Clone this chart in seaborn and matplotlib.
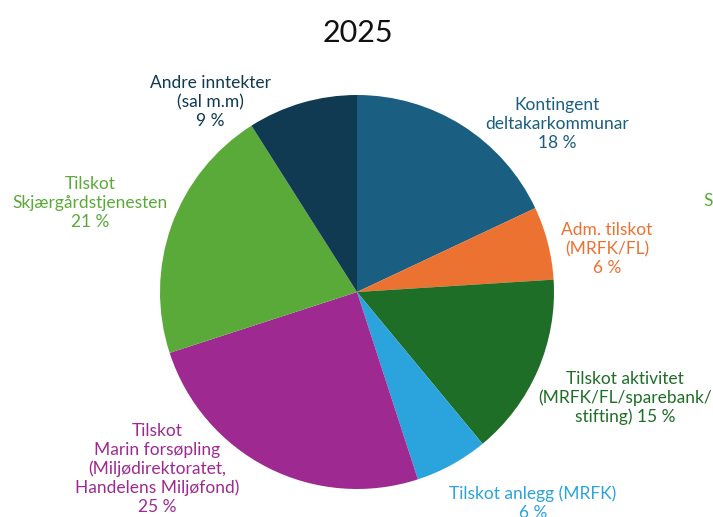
import matplotlib
matplotlib.use("Agg")
import matplotlib.pyplot as plt
import seaborn as sns

sns.set_theme(style="white")
plt.rcParams['font.family'] = ['Lato', 'DejaVu Sans']

categories = ["Kontingent\ndeltakarkommunar", "Adm. tilskot\n(MRFK/FL)",
              "Tilskot aktivitet\n(MRFK/FL/sparebank/\nstifting)", "Tilskot anlegg (MRFK)",
              "Tilskot\nMarin forsøpling\n(Miljødirektoratet,\nHandelens Miljøfond)",
              "Tilskot\nSkjærgårdstjenesten", "Andre inntekter\n(sal m.m)"]
values = [18, 6, 15, 6, 25, 21, 9]
colors = ["#1a5e82", "#ec7232", "#1f6e27", "#2ba3dc", "#9e2a91", "#5aaa3a", "#0f3a52"]
label_texts = ["Kontingent\ndeltakarkommunar\n18 %", "Adm. tilskot\n(MRFK/FL)\n6 %",
               "Tilskot aktivitet\n(MRFK/FL/sparebank/\nstifting) 15 %",
               "Tilskot anlegg (MRFK)\n6 %",
               "Tilskot\nMarin forsøpling\n(Miljødirektoratet,\nHandelens Miljøfond)\n25 %",
               "Tilskot\nSkjærgårdstjenesten\n21 %", "Andre inntekter\n(sal m.m)\n9 %"]
label_pos = [(557, 124), (607, 249), (625, 398), (533, 503), (157, 469), (90, 203), (210, 102)]

W, H = 713, 517
fig = plt.figure(figsize=(W / 100, H / 100), dpi=100)
ax = fig.add_axes([0, 0, 1, 1])
ax.pie(values, colors=colors, startangle=90, counterclock=False,
       center=(357, H - 292), radius=197, wedgeprops=dict(linewidth=0))
ax.set_xlim(0, W)
ax.set_ylim(0, H)
ax.set_aspect('equal')
ax.axis('off')

for txt, (x, y), c in zip(label_texts, label_pos, colors):
    ax.text(x, H - y, txt, ha='center', va='center', color=c, fontsize=12.5,
            linespacing=1.2)

ax.text(708, H - 201, "S", ha='center', va='center', color="#5aaa3a", fontsize=12.5)
ax.text(358, H - 33, "2025", ha='center', va='center', color="#111111", fontsize=22)

fig.savefig("out.png", dpi=100)
